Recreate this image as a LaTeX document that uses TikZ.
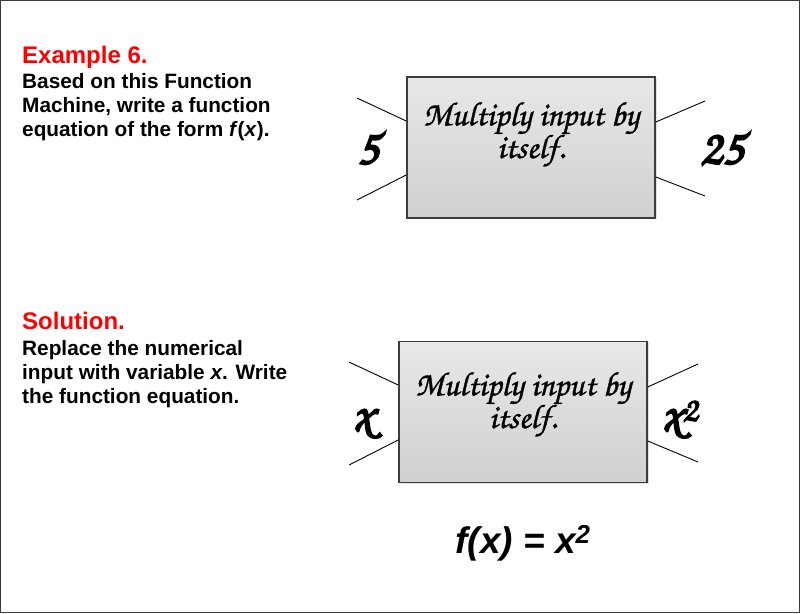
\documentclass[tikz,border=0pt]{standalone}
\usepackage{fontspec}
\setmainfont{Liberation Sans}
\newfontfamily\handfont{TeX Gyre Chorus}[FakeBold=1]
\newfontfamily\handbold{TeX Gyre Chorus}[FakeBold=4]
\usetikzlibrary{calc,shadows}
\definecolor{exred}{HTML}{FF0000}
\definecolor{framegray}{HTML}{3C3C3C}
\definecolor{boxtop}{HTML}{E8E8E8}
\definecolor{boxbot}{HTML}{D0D0D0}

\begin{document}
\begin{tikzpicture}[
  x=1pt,y=-1pt,
  machine/.style={draw=framegray,line width=1.6pt,top color=boxtop,bottom color=boxbot,
                  minimum width=248pt,minimum height=141pt,inner sep=0pt,
                  drop shadow={shadow xshift=2pt,shadow yshift=-1pt,fill=gray!30,opacity=.8}},
  rule/.style={anchor=base,align=center,font=\handfont\fontsize{34}{27}\selectfont},
  chute/.style={line width=0.9pt,black},
  heading/.style={anchor=base west,inner xsep=0pt,text=exred,font=\bfseries\fontsize{24}{24}\selectfont},
  body/.style={anchor=base west,inner xsep=0pt,align=left,font=\bfseries\fontsize{20.8}{24}\selectfont},
  hand/.style={anchor=base,font=\handbold\fontsize{50}{50}\selectfont}
]
\useasboundingbox (0,0) rectangle (800,613);
\draw[framegray,line width=1pt] (0.5,0.5) rectangle (799.5,612.5);

% example part
\node[heading] (ex) at (22,63) {Example 6.};
\node[body] (exbody) at (22,136) {Based on this Function\\Machine, write a function\\equation of the form \textit{f}(\textit{x}).};

\node[machine] (m1) at (531,147.5) {};
\node[rule] (r1) at (531,158) {Multiply input by\\itself.};
\coordinate (a1) at (357,98);
\coordinate (b1) at (357,200);
\coordinate (c1) at (705,101);
\coordinate (d1) at (705,196);
\draw[chute] (a1) -- ($(m1.west)+(0,-26.5)$);
\draw[chute] (b1) -- ($(m1.west)+(0,27.5)$);
\draw[chute] (c1) -- ($(m1.east)+(0,-25.5)$);
\draw[chute] (d1) -- ($(m1.east)+(0,29.5)$);
\node[hand] (in1) at (368,164) {5};
\node[hand] (out1) at (722,164) {25};

% solution part
\node[heading] (sol) at (22,329) {Solution.};
\node[body] (solbody) at (22,403) {Replace the numerical\\input with variable \textit{x}. Write\\the function equation.};

\node[machine] (m2) at (523,412) {};
\node[rule] (r2) at (523,428) {Multiply input by\\itself.};
\coordinate (a2) at (349,362);
\coordinate (b2) at (349,465);
\coordinate (c2) at (698,364);
\coordinate (d2) at (698,462);
\draw[chute] (a2) -- ($(m2.west)+(0,-27)$);
\draw[chute] (b2) -- ($(m2.west)+(0,28)$);
\draw[chute] (c2) -- ($(m2.east)+(0,-25)$);
\draw[chute] (d2) -- ($(m2.east)+(0,29)$);
\node[hand] (in2) at (363,430) {x};
\node[hand] (out2) at (680,430) {x\textsuperscript{2}};

\node[anchor=base,font=\bfseries\itshape\fontsize{37}{40}\selectfont] (eq) at (523,553) {f(x) = x\textsuperscript{2}};
\end{tikzpicture}
\end{document}
